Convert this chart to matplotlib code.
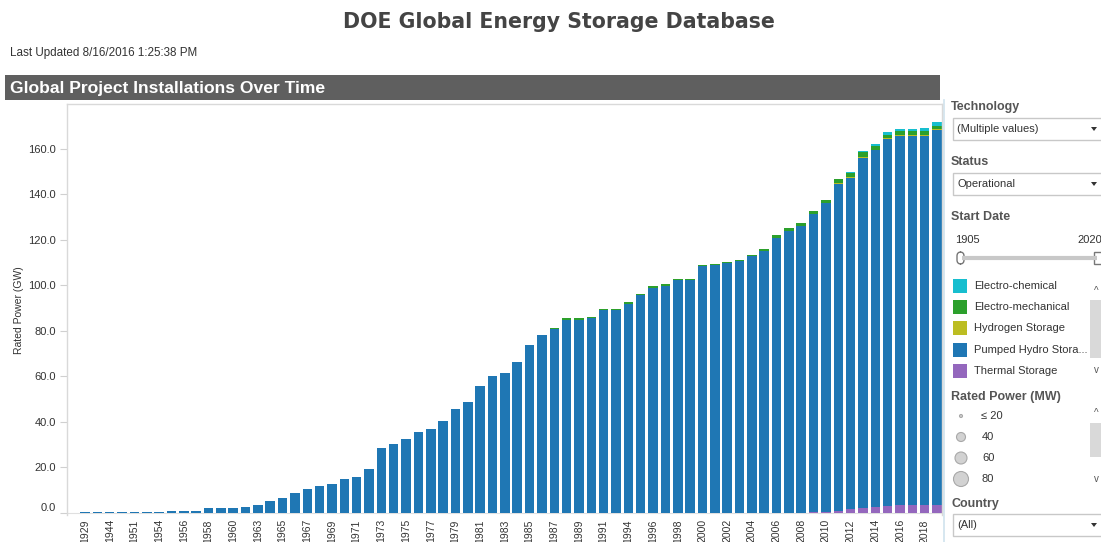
import matplotlib
matplotlib.use("Agg")
import matplotlib.pyplot as plt
from matplotlib.patches import Rectangle, Circle, FancyBboxPatch, Polygon
import numpy as np

# ---------------- data ----------------
years = [1929, 1937, 1944, 1950, 1951, 1953, 1954, 1955, 1956, 1957, 1958, 1959, 1960, 1962,
         1963, 1964, 1965, 1966, 1967, 1968, 1969, 1970, 1971, 1972, 1973, 1974, 1975, 1976,
         1977, 1978, 1979, 1980, 1981, 1982, 1983, 1984, 1985, 1986, 1987, 1988, 1989, 1990,
         1991, 1993, 1994, 1995, 1996, 1997, 1998, 1999, 2000, 2001, 2002, 2003, 2004, 2005,
         2006, 2007, 2008, 2009, 2010, 2011, 2012, 2013, 2014, 2015, 2016, 2017, 2018, 2019]

thermal = [0]*59 + [0.2, 0.4, 0.8, 1.5, 2.2, 2.6, 3.0, 3.2, 3.2, 3.2, 3.2]

pumped_hydro = [0.1, 0.4, 0.4, 0.4, 0.4, 0.4, 0.4, 0.9, 0.9, 0.9, 1.9, 1.9, 1.9, 2.3,
                3.2, 5.0, 6.6, 8.8, 10.3, 11.6, 12.5, 15.0, 15.8, 19.0, 28.4, 30.2, 32.2, 35.5,
                36.8, 40.1, 45.7, 48.5, 55.5, 60.1, 61.5, 66.2, 73.8, 78.0, 80.7, 84.9, 84.8, 85.4,
                89.1, 89.1, 91.9, 95.7, 98.9, 99.8, 102.1, 102.1, 108.3, 108.7, 109.6, 110.5, 112.7, 115.1,
                120.7, 124.0, 126.2, 131.1, 135.7, 143.7, 145.6, 153.6, 156.6, 161.1, 162.3, 162.3, 162.3, 164.9]

hydrogen = [0]*61 + [0.4, 0.3, 0.5, 0.3, 0.5, 0.5, 0.5, 0.5, 0.5]

electro_mech = [0]*38 + [0.5, 0.6, 0.6, 0.6, 0.5, 0.5, 0.6, 0.6, 0.6, 0.6, 0.6, 0.6,
                         0.6, 0.6, 0.6, 0.6, 0.7, 0.7, 1.2, 1.3, 1.3, 1.3, 1.5, 1.8,
                         2.0, 2.2, 1.5, 1.5, 1.6, 1.6, 1.6, 1.2]

electro_chem = [0]*62 + [0.2, 0.3, 1.2, 1.2, 1.0, 1.0, 1.3, 1.8]

series_names = ["Thermal Storage", "Pumped Hydro Storage", "Hydrogen Storage",
                "Electro-mechanical", "Electro-chemical"]
series_vals = [thermal, pumped_hydro, hydrogen, electro_mech, electro_chem]
series_colors = ["#9467bd", "#1f77b4", "#bcbd22", "#2ca02c", "#17becf"]

yticks = [0, 20, 40, 60, 80, 100, 120, 140, 160]

legend_labels = ["Electro-chemical", "Electro-mechanical", "Hydrogen Storage",
                 "Pumped Hydro Stora...", "Thermal Storage"]
legend_colors = ["#17becf", "#2ca02c", "#bcbd22", "#1f77b4", "#9467bd"]
size_labels = ["\u2264 20", "40", "60", "80"]

# ---------------- figure ----------------
W, H = 1101, 542
fig = plt.figure(figsize=(W/100, H/100), dpi=100)
fig.patch.set_facecolor("white")

ov = fig.add_axes([0, 0, 1, 1], zorder=0)
ov.set_xlim(0, W)
ov.set_ylim(H, 0)
ov.axis("off")

SANS = ["Liberation Sans", "DejaVu Sans"]
TXT = "#555555"

# Title and header
ov.text(559, 22, "DOE Global Energy Storage Database", ha="center", va="center",
        fontsize=14.8, fontweight="bold", color="#444444", family="DejaVu Sans")
ov.text(10, 53, "Last Updated 8/16/2016 1:25:38 PM", ha="left", va="center",
        fontsize=8.4, color="#333333", family=SANS)
ov.add_patch(Rectangle((5, 75), 935, 25, facecolor="#5f5f5f", edgecolor="none"))
ov.text(10, 88, "Global Project Installations Over Time", ha="left", va="center",
        fontsize=12.6, fontweight="bold", color="white", family=SANS)

# y label
ov.text(19, 310, "Rated Power (GW)", rotation=90, ha="center", va="center",
        fontsize=7.5, color="#333333", family=SANS)

# panel border
ov.plot([944, 944], [100, 542], color="#cfe3ee", lw=1.2)

# ---------------- main chart ----------------
L, R, T, B = 67, 942, 104, 515
ax = fig.add_axes([L/W, (H-B)/H, (R-L)/W, (B-T)/H], zorder=1)
x = np.arange(len(years))
bottom = np.zeros(len(years))
for name, vals, col in zip(series_names, series_vals, series_colors):
    v = np.array(vals, dtype=float)
    ax.bar(x, v, bottom=bottom, width=0.77, color=col, label=name, linewidth=0)
    bottom += v

ax.set_xlim(-1.46, 69.4)
ax.set_ylim(-1.0, 179.6)
ax.set_yticks(yticks)
ax.set_yticklabels([f"{t:.1f}" for t in yticks], fontsize=8, color="#333333", family=SANS)
ax.get_yticklabels()[0].set_va("bottom")
ax.set_xticks(x[::2])
ax.set_xticklabels([str(y) for y in years[::2]], rotation=90, fontsize=7.5,
                   color="#333333", family=SANS, va="top")
ax.tick_params(axis="y", length=5, color="#d0d0d0", pad=3)
ax.tick_params(axis="x", length=0, pad=3)
for s in ["left", "top", "right"]:
    ax.spines[s].set_color("#d9d9d9")
    ax.spines[s].set_linewidth(1)
ax.spines["bottom"].set_visible(False)
ax.axhline(0, color="#e0e0e0", lw=0.8, zorder=0)

# ---------------- right panel ----------------
def header(y, s):
    ov.text(951, y, s, ha="left", va="center", fontsize=9, fontweight="bold",
            color=TXT, family=SANS)

def dropdown(y0, y1, s):
    ov.add_patch(Rectangle((953, y0), 160, y1-y0, facecolor="white",
                           edgecolor="#c8c8c8", lw=1))
    ov.text(957, (y0+y1)/2, s, ha="left", va="center", fontsize=8,
            color="#333333", family=SANS)
    yc = (y0+y1)/2
    ov.add_patch(Polygon([(1091, yc-2), (1097, yc-2), (1094, yc+2)], closed=True,
                         facecolor="#333333", edgecolor="none"))

header(107, "Technology")
dropdown(118, 140, "(Multiple values)")
header(162, "Status")
dropdown(173, 195, "Operational")
header(217, "Start Date")
ov.text(955, 240, "1905", ha="left", va="center", fontsize=8, color="#333333", family=SANS)
ov.text(1077, 240, "2020", ha="left", va="center", fontsize=8, color="#333333", family=SANS)
ov.plot([962, 1097], [258, 258], color="#c8c8c8", lw=3, solid_capstyle="butt")
ov.add_patch(FancyBboxPatch((957, 252), 7, 12, boxstyle="round,pad=0,rounding_size=4",
                            facecolor="white", edgecolor="#777777", lw=1))
ov.add_patch(Rectangle((1094, 252), 10, 12, facecolor="white", edgecolor="#777777", lw=1))

for i, (lab, col) in enumerate(zip(legend_labels, legend_colors)):
    yc = 286 + i*21.2
    ov.add_patch(Rectangle((953, yc-7), 14, 14, facecolor=col, edgecolor="none"))
    ov.text(974, yc, lab, ha="left", va="center", fontsize=8, color="#333333", family=SANS)

# legend scrollbar
ov.add_patch(Rectangle((1090, 300), 11, 58, facecolor="#d9d9d9", edgecolor="none"))
ov.text(1096, 291, "^", ha="center", va="center", fontsize=7, color="#555555", family=SANS)
ov.text(1096, 370, "v", ha="center", va="center", fontsize=7, color="#555555", family=SANS)

header(397, "Rated Power (MW)")
radii = [1.5, 4.5, 6.0, 7.5]
for i, (lab, r) in enumerate(zip(size_labels, radii)):
    yc = 416 + i*21
    ov.add_patch(Circle((961, yc), r, facecolor="#d2d2d2", edgecolor="#a8a8a8", lw=0.8))
    ov.text(982 if i else 981, yc, lab, ha="left", va="center", fontsize=8,
            color="#333333", family=SANS)
ov.add_patch(Rectangle((1090, 423), 11, 34, facecolor="#d9d9d9", edgecolor="none"))
ov.text(1096, 413, "^", ha="center", va="center", fontsize=7, color="#555555", family=SANS)
ov.text(1096, 479, "v", ha="center", va="center", fontsize=7, color="#555555", family=SANS)

header(504, "Country")
dropdown(514, 536, "(All)")

fig.savefig("out.png", dpi=100, facecolor="white")
